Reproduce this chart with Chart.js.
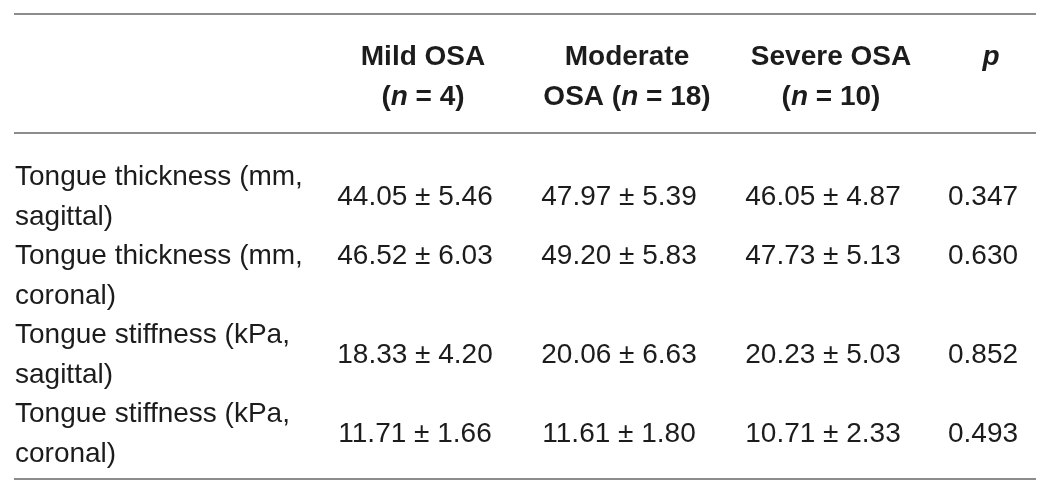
<!DOCTYPE html>
<html>
<head>
<meta charset="utf-8">
<script src="https://cdn.jsdelivr.net/npm/chart.js@4"></script>
<style>
  html, body { margin: 0; padding: 0; background: #fff; }
  #wrap { width: 1052px; height: 496px; position: relative; }
</style>
</head>
<body>
<div id="wrap"><canvas id="tableChart"></canvas></div>
<script>
// table contents (_x_ = italic)
var groups = ['Mild OSA', 'Moderate OSA', 'Severe OSA', 'p'];
var headerLines = [
  ['Mild OSA', '(_n_ = 4)'],
  ['Moderate', 'OSA (_n_ = 18)'],
  ['Severe OSA', '(_n_ = 10)'],
  ['_p_', '']
];
var rowLabels = [
  ['Tongue thickness (mm,', 'sagittal)'],
  ['Tongue thickness (mm,', 'coronal)'],
  ['Tongue stiffness (kPa,', 'sagittal)'],
  ['Tongue stiffness (kPa,', 'coronal)']
];
var mildMean = [44.05, 46.52, 18.33, 11.71];
var mildSd = [5.46, 6.03, 4.20, 1.66];
var moderateMean = [47.97, 49.20, 20.06, 11.61];
var moderateSd = [5.39, 5.83, 6.63, 1.80];
var severeMean = [46.05, 47.73, 20.23, 10.71];
var severeSd = [4.87, 5.13, 5.03, 2.33];
var pValues = [0.347, 0.630, 0.852, 0.493];

// layout in scale units (scale = page pixels)
var layout = {
  headX: [423, 627, 831, 991],
  cellX: [415, 619, 823, 983],
  labelX: 15,
  headY: [65, 105],
  rowY: [185, 264, 343, 422],
  lineGap: 39.5,
  valueAlign: ['middle', 'top', 'middle', 'middle'],
  rules: [14, 133, 479],
  ruleX: [14, 1036]
};

var FONT = '"Liberation Sans", Arial, sans-serif';

function drawRuns(ctx, text, cx, y, bold) {
  var parts = text.split('_');
  var base = (bold ? 'bold ' : '') + '28px ' + FONT;
  var ital = 'italic ' + base;
  var w = 0;
  parts.forEach(function (p, i) {
    ctx.font = i % 2 ? ital : base;
    w += ctx.measureText(p).width;
  });
  var x = cx - w / 2;
  ctx.textAlign = 'left';
  parts.forEach(function (p, i) {
    ctx.font = i % 2 ? ital : base;
    ctx.fillText(p, x, y);
    x += ctx.measureText(p).width;
  });
}

var tablePlugin = {
  id: 'tablePlugin',
  afterDraw: function (chart) {
    var ctx = chart.ctx;
    var xs = chart.scales.x, ys = chart.scales.y;
    var means = [mildMean, moderateMean, severeMean];
    var sds = [mildSd, moderateSd, severeSd];
    ctx.save();

    // horizontal rules
    ctx.strokeStyle = '#8c8c8c';
    ctx.lineWidth = 2;
    layout.rules.forEach(function (ry) {
      var py = ys.getPixelForValue(ry);
      ctx.beginPath();
      ctx.moveTo(xs.getPixelForValue(layout.ruleX[0]), py);
      ctx.lineTo(xs.getPixelForValue(layout.ruleX[1]), py);
      ctx.stroke();
    });

    ctx.fillStyle = '#1c1c1c';
    ctx.textBaseline = 'alphabetic';

    // header
    headerLines.forEach(function (lines, c) {
      lines.forEach(function (t, k) {
        if (!t) return;
        drawRuns(ctx, t, xs.getPixelForValue(layout.headX[c]), ys.getPixelForValue(layout.headY[k]), true);
      });
    });

    // body rows
    rowLabels.forEach(function (lines, r) {
      var y0 = layout.rowY[r];
      ctx.font = '28px ' + FONT;
      ctx.textAlign = 'left';
      lines.forEach(function (t, k) {
        ctx.fillText(t, xs.getPixelForValue(layout.labelX), ys.getPixelForValue(y0 + k * layout.lineGap));
      });
      var vy = layout.valueAlign[r] === 'top' ? y0 : y0 + layout.lineGap / 2;
      var cells = [];
      for (var g = 0; g < 3; g++) {
        cells.push(means[g][r].toFixed(2) + ' \u00b1 ' + sds[g][r].toFixed(2));
      }
      cells.push(pValues[r].toFixed(3));
      ctx.textAlign = 'center';
      cells.forEach(function (t, c) {
        ctx.fillText(t, xs.getPixelForValue(layout.cellX[c]), ys.getPixelForValue(vy));
      });
    });
    ctx.restore();
  }
};

new Chart(document.getElementById('tableChart'), {
  type: 'scatter',
  data: { labels: groups, datasets: [{ data: [], pointRadius: 0 }] },
  options: {
    responsive: true,
    maintainAspectRatio: false,
    animation: false,
    layout: { padding: 0 },
    plugins: { legend: { display: false }, tooltip: { enabled: false } },
    scales: {
      x: { type: 'linear', min: 0, max: 1052, display: false },
      y: { type: 'linear', min: 0, max: 496, reverse: true, display: false }
    }
  },
  plugins: [tablePlugin]
});
</script>
</body>
</html>
